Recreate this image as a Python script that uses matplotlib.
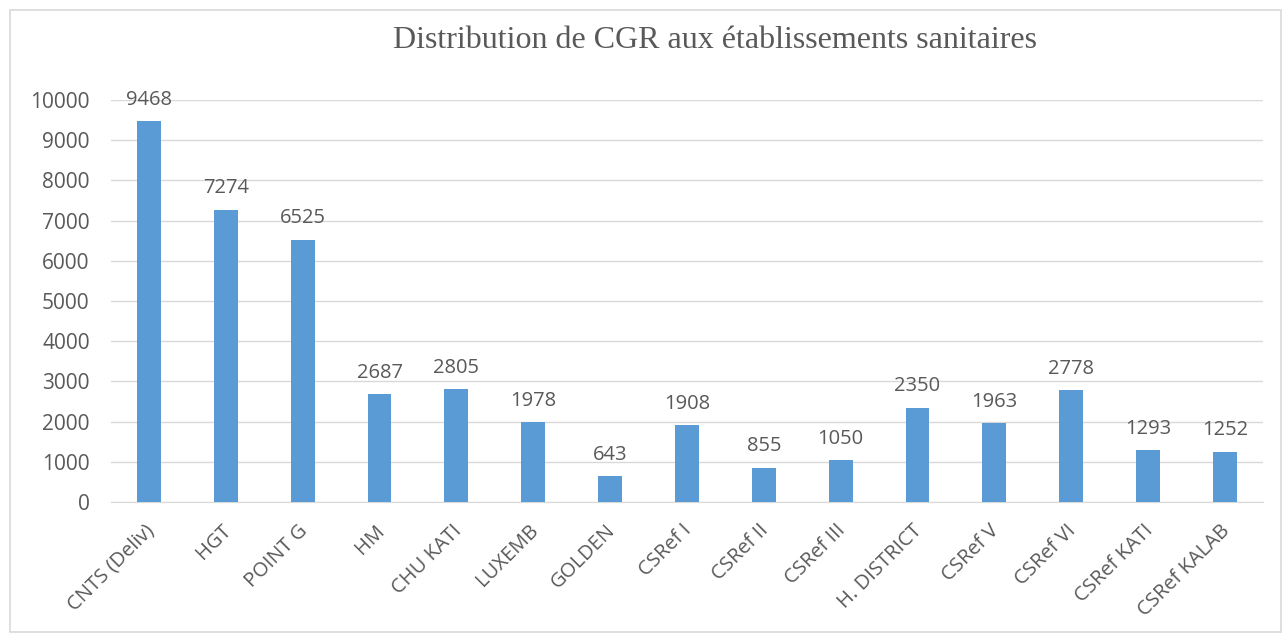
import matplotlib.pyplot as plt
from matplotlib.patches import Rectangle
from matplotlib.transforms import ScaledTranslation

categories = ["CNTS (Deliv)", "HGT", "POINT G", "HM", "CHU KATI", "LUXEMB",
              "GOLDEN", "CSRef I", "CSRef II", "CSRef III", "H. DISTRICT",
              "CSRef V", "CSRef VI", "CSRef KATI", "CSRef KALAB"]
values = [9468, 7274, 6525, 2687, 2805, 1978, 643, 1908, 855, 1050, 2350,
          1963, 2778, 1293, 1252]
title = "Distribution de CGR aux établissements sanitaires"

text_color = "#595959"
plt.rcParams['font.family'] = ["Open Sans", "DejaVu Sans"]

fig = plt.figure(figsize=(12.84, 6.36), dpi=100)
fig.patches.append(Rectangle((0.008, 0.006), 0.99, 0.978, transform=fig.transFigure,
                             fill=False, edgecolor="#D9D9D9", linewidth=1.2))
ax = fig.add_axes([0.0861, 0.2107, 0.8978, 0.6321])

x = range(len(categories))
bars = ax.bar(x, values, width=0.31, color="#5B9BD5", zorder=3)
for b, v in zip(bars, values):
    ax.text(b.get_x() + b.get_width() / 2, v + 280, str(v), ha="center",
            va="bottom", fontsize=14.5, color=text_color)

ax.set_xlim(-0.5, len(categories) - 0.5)
ax.set_ylim(0, 10000)
ax.set_yticks(range(0, 10001, 1000))
ax.yaxis.grid(True, color="#D9D9D9", linewidth=1, zorder=0)
ax.set_xticks(list(x))
ax.set_xticklabels(categories, rotation=45, ha="right", va="center",
                   rotation_mode="anchor")
ax.tick_params(axis="both", length=0, labelsize=14.5, labelcolor=text_color)
ax.tick_params(axis="y", labelsize=15)
ax.tick_params(axis="x", pad=18.5)
ax.tick_params(axis="y", pad=15)
shift = ScaledTranslation(2 / 100, 0, fig.dpi_scale_trans)
for lbl in ax.get_xticklabels():
    lbl.set_transform(lbl.get_transform() + shift)
for s in ["top", "right", "left"]:
    ax.spines[s].set_visible(False)
ax.spines["bottom"].set_color("#D9D9D9")

fig.text(0.557, 0.937, title, ha="center", va="center", fontsize=23,
         family="Liberation Serif", color=text_color)

fig.savefig("out.png", dpi=100)
